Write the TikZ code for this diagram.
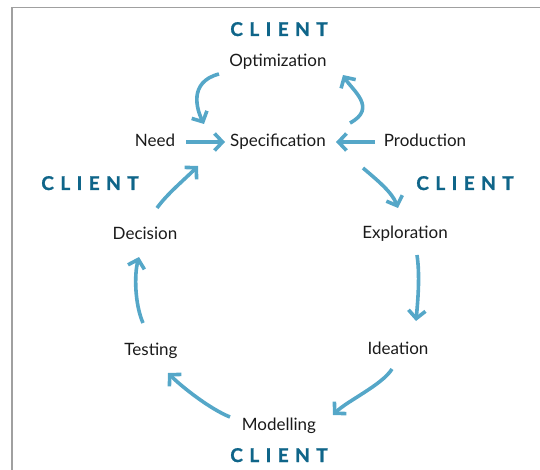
\documentclass[tikz,border=0pt]{standalone}
\usepackage{fontspec}
\setmainfont{Lato}
\usetikzlibrary{arrows.meta,calc}
\definecolor{flowblue}{HTML}{55A7C8}
\definecolor{clientblue}{HTML}{0F6589}
\definecolor{framegray}{HTML}{A0A0A0}
\definecolor{labelink}{HTML}{1A1A1A}
\begin{document}
\begin{tikzpicture}[x=1pt,y=-1pt,
  stage/.style={anchor=base, inner sep=0pt, text height=12pt, text depth=3.5pt,
    font=\fontsize{17}{19}\selectfont, text=labelink},
  client/.style={anchor=base, inner sep=0pt,
    font=\fontsize{19}{21}\selectfont\bfseries\addfontfeature{LetterSpace=34,FakeBold=1.2}, text=clientblue},
  flow/.style={draw=flowblue, line width=3.6pt,
    -{Straight Barb[length=8pt,width=17pt,sharp]}}]
\useasboundingbox (0,0) rectangle (540,470);
% page frame
\draw[framegray, line width=1.5pt] (12,470) -- (12,7.5) -- (540,7.5);

% client labels
\node[client] (cltop)    at (279,36)  {CLIENT};
\node[client] (clleft)   at (90,190)  {CLIENT};
\node[client] (clright)  at (465,190) {CLIENT};
\node[client] (clbottom) at (279,462) {CLIENT};

% stages
\node[stage] (opt)  at (278,67)    {Optimization};
\node[stage] (need) at (155,147)   {Need};
\node[stage] (spec) at (278,147)   {Specification};
\node[stage] (prod) at (425,147)   {Production};
\node[stage] (dec)  at (145,239)   {Decision};
\node[stage] (expl) at (405,238.5) {Exploration};
\node[stage] (test) at (151,355)   {Testing};
\node[stage] (idea) at (398,354)   {Ideation};
\node[stage] (mod)  at (279,430)   {Modelling};

% flows around the specification
\draw[flow] ($(opt.center)+(-59,11.25)$) .. controls +(-31,8) and +(-7,-14) .. ($(spec.center)+(-74,-18.75)$);
\draw[flow] ($(spec.center)+(72,-19.75)$) .. controls +(28,-15) and +(9,15) .. ($(opt.center)+(65,12.25)$);
\draw[flow] ($(need.center)+(31,-0.75)$) -- ($(spec.center)+(-53,-0.75)$);
\draw[flow] ($(prod.center)+(-50,-0.75)$) -- ($(spec.center)+(58,-0.75)$);

% the development cycle
\draw[flow] ($(dec.center)+(12,-26.75)$) .. controls +(10,-14) and +(-14,14) .. ($(spec.center)+(-80,23.25)$);
\draw[flow] ($(spec.center)+(85,25.25)$) .. controls +(14,12) and +(-6,-16) .. ($(expl.center)+(-7,-26.25)$);
\draw[flow] ($(expl.center)+(12,20.75)$) .. controls +(3,20) and +(2,-22) .. ($(idea.center)+(18,-28.75)$);
\draw[flow] ($(idea.center)+(-6,19.25)$) .. controls +(-10,16) and +(14,-14) .. ($(mod.center)+(54,-10.75)$);
\draw[flow] ($(mod.center)+(-49,-8.75)$) .. controls +(-20,-8) and +(14,14) .. ($(test.center)+(17,22.25)$);
\draw[flow] ($(test.center)+(-8,-27.75)$) .. controls +(-8,-18) and +(-5,18) .. ($(dec.center)+(-6,22.25)$);
\end{tikzpicture}
\end{document}
